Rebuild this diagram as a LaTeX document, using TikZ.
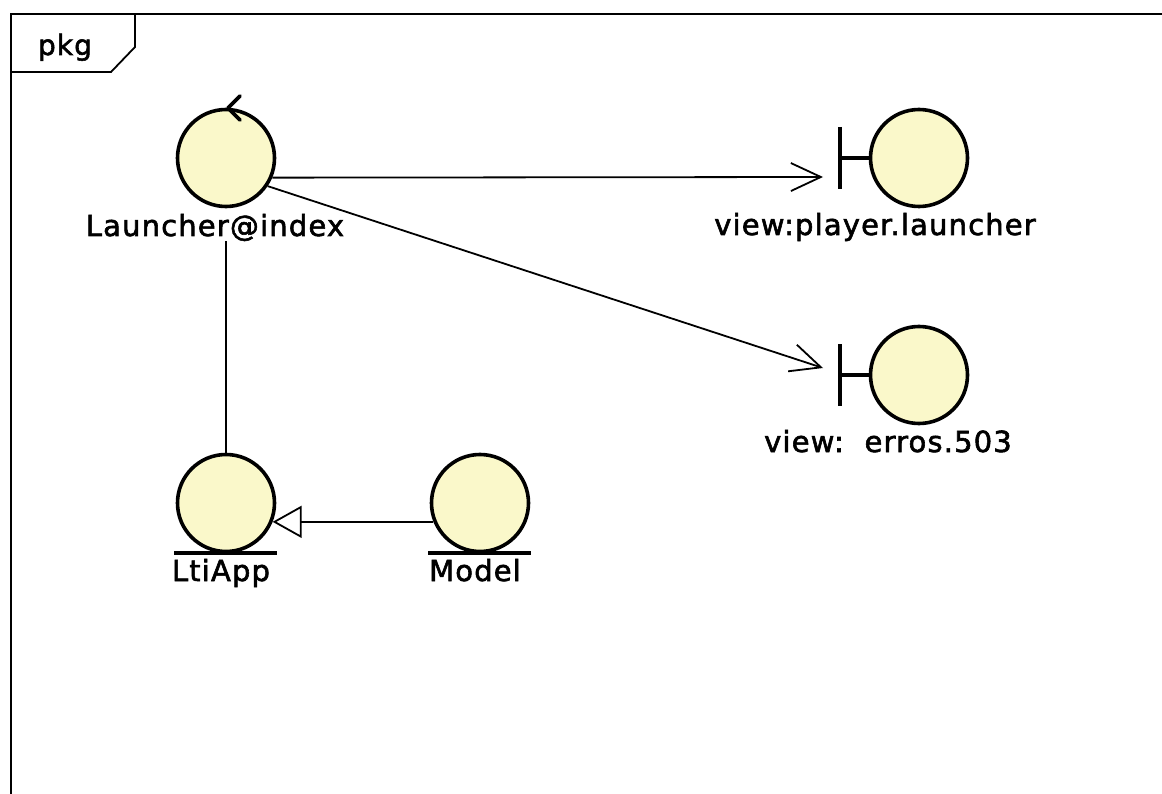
\documentclass[tikz,border=0pt]{standalone}
\usepackage{fontspec}
\newfontfamily\lbl{DejaVu Sans}[LetterSpace=4,FakeBold=2]
\usetikzlibrary{arrows.meta}
\definecolor{robfill}{RGB}{250,248,202}
\tikzset{
  robust/.style={circle,draw=black,fill=robfill,line width=3.6pt,minimum size=97pt,inner sep=0pt},
  lab/.style={font=\lbl\fontsize{29}{33}\selectfont,inner sep=0pt,anchor=base},
  conn/.style={line width=1.8pt},
  navarrow/.style={conn,-{Straight Barb[length=30pt,width=28pt,line width=1.8pt]}},
  genarrow/.style={conn,-{Triangle[open,length=29pt,width=32pt,line width=1.8pt,fill=white]}},
  thickline/.style={line width=3.6pt},
  framebox/.style={line width=1.8pt}
}
\begin{document}
\begin{tikzpicture}[x=1pt,y=-1pt]
\useasboundingbox (0,0) rectangle (1162,794);
% frame
\draw[framebox] (1175,14) -- (11,14) -- (11,805);
\draw[framebox] (11,72) -- (111,72) -- (135,47) -- (135,14);
\node[lab,font=\lbl\fontsize{28}{32}\selectfont] (pkg) at (65,55) {pkg};
% controller
\node[robust] (launcher) at (226,158) {};
\draw[thickline,line cap=round,line join=round] (240,96) -- (228,108) -- (240,120);
\node[lab] (launcherlbl) at (215,236) {Launcher@index};
% boundaries
\node[robust] (player) at (919,158) {};
\draw[thickline] (player.west) -- (840,158);
\draw[thickline] (840,127) -- (840,189);
\node[lab] (playerlbl) at (875,235) {view:player.launcher};
\node[robust] (erros) at (919,375) {};
\draw[thickline] (erros.west) -- (840,375);
\draw[thickline] (840,344) -- (840,406);
\node[lab] (erroslbl) at (888,452) {view:\ \ erros.503};
% entities
\node[robust] (ltiapp) at (226,503) {};
\draw[thickline] (174,553) -- (277,553);
\node[lab] (ltiapplbl) at (221,581) {LtiApp};
\node[robust] (model) at (480,503) {};
\draw[thickline] (428,553) -- (531,553);
\node[lab] (modellbl) at (475,581) {Model};
% connector end points
\coordinate (playerin) at (823,177);
\coordinate (errosin) at (823,368);
% connectors
\draw[navarrow] (launcher.-23) -- (playerin);
\draw[navarrow] (launcher.-34.5) -- (errosin);
\draw[conn] (launcherlbl.south -| launcher.south) -- (ltiapp.north);
\draw[genarrow] (model.-158) -- (ltiapp.-22);
\end{tikzpicture}
\end{document}
